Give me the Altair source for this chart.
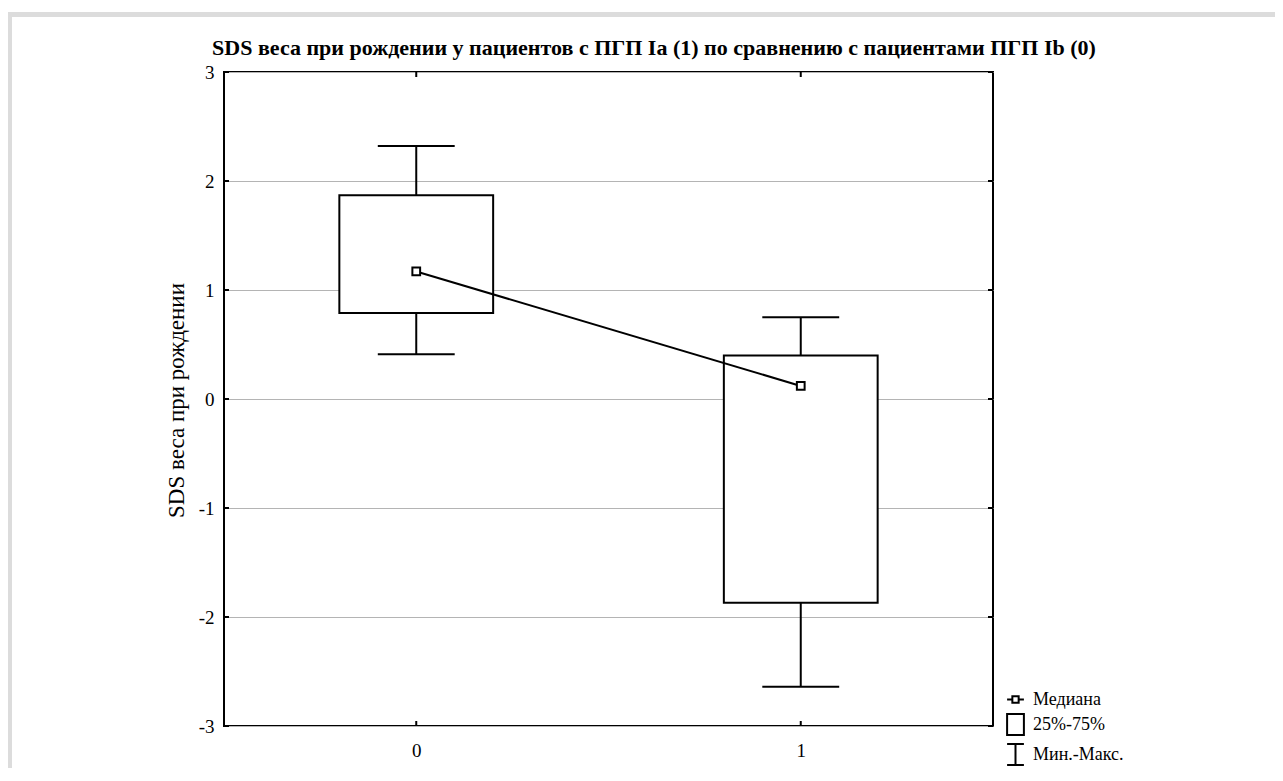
import altair as alt
import pandas as pd

# ---- data ----
groups = [0, 1]
medians = [1.17, 0.12]
q1 = [0.79, -1.87]
q3 = [1.87, 0.40]
mins = [0.41, -2.64]
maxs = [2.32, 0.75]

y_ticks = [-3, -2, -1, 0, 1, 2, 3]
x_ticks = [0, 1]
legend_items = ["Медиана", "25%-75%", "Мин.-Макс."]

title_text = "SDS веса при рождении у пациентов с ПГП Ia (1) по сравнению с пациентами ПГП Ib (0)"
y_title = "SDS веса при рождении"

FONT = "Liberation Serif, Times New Roman, serif"
W, H = 769, 654
BOX_HALF = 0.2
CAP_HALF = 0.1

df = pd.DataFrame({"g": groups, "med": medians, "q1": q1, "q3": q3, "mn": mins, "mx": maxs})
df["bl"] = df["g"] - BOX_HALF
df["br"] = df["g"] + BOX_HALF
df["cl"] = df["g"] - CAP_HALF
df["cr"] = df["g"] + CAP_HALF

xs = alt.Scale(domain=[-0.5, 1.5], nice=False, zero=False)
ys = alt.Scale(domain=[-3, 3], nice=False, zero=False)

base = alt.Chart(df)

x_axis = alt.Axis(values=x_ticks, grid=False, tickSize=0, domain=False,
                  labelFont=FONT, labelFontSize=19, labelColor="black",
                  labelPadding=15, title=None, labelExpr="toString(datum.value)")
y_axis = alt.Axis(values=y_ticks, grid=True, gridColor="#b4b4b4", gridWidth=1,
                  tickSize=0, domain=False, labelFont=FONT, labelFontSize=19,
                  labelColor="black", labelPadding=10, title=y_title,
                  titleFont=FONT, titleFontSize=23, titleFontWeight="normal",
                  titleColor="black", titleX=-48, titleY=H / 2 + 1, titleAngle=270,
                  titleBaseline="middle", titleAlign="center",
                  labelExpr="toString(datum.value)")

grid_holder = base.mark_point(opacity=0).encode(
    x=alt.X("g:Q", scale=xs, axis=x_axis),
    y=alt.Y("med:Q", scale=ys, axis=y_axis),
)

whisk_up = base.mark_rule(color="black", strokeWidth=2).encode(
    x="g:Q", y="q3:Q", y2="mx:Q")
whisk_dn = base.mark_rule(color="black", strokeWidth=2).encode(
    x="g:Q", y="mn:Q", y2="q1:Q")
cap_up = base.mark_rule(color="black", strokeWidth=2).encode(
    x="cl:Q", x2="cr:Q", y="mx:Q")
cap_dn = base.mark_rule(color="black", strokeWidth=2).encode(
    x="cl:Q", x2="cr:Q", y="mn:Q")
boxes = base.mark_rect(fill="white", stroke="black", strokeWidth=2).encode(
    x="bl:Q", x2="br:Q", y="q1:Q", y2="q3:Q")
med_line = base.mark_line(color="black", strokeWidth=2).encode(
    x="g:Q", y="med:Q")
med_pts = base.mark_square(size=60, filled=True, fill="white", stroke="black",
                           strokeWidth=2, opacity=1).encode(x="g:Q", y="med:Q")

# inward ticks
yt = alt.Chart(pd.DataFrame({"v": y_ticks}))
xt = alt.Chart(pd.DataFrame({"v": x_ticks}))
tick_l = yt.mark_rule(color="black", strokeWidth=2).encode(
    y="v:Q", x=alt.value(0), x2=alt.value(5))
tick_r = yt.mark_rule(color="black", strokeWidth=2).encode(
    y="v:Q", x=alt.value(W - 5), x2=alt.value(W))
tick_b = xt.mark_rule(color="black", strokeWidth=2).encode(
    x="v:Q", y=alt.value(H - 5), y2=alt.value(H))
tick_t = xt.mark_rule(color="black", strokeWidth=2).encode(
    x="v:Q", y=alt.value(0), y2=alt.value(5))

# legend
m_path = "M-0.8,0L-0.3,0M0.3,0L0.8,0M-0.3,-0.3L0.3,-0.3L0.3,0.3L-0.3,0.3Z"
b_path = "M-0.8,-1L0.8,-1L0.8,1L-0.8,1Z"
i_path = "M-0.8,-1L0.8,-1M0,-1L0,1M-0.8,1L0.8,1"
leg = alt.Chart(pd.DataFrame({"item": legend_items})).mark_point(opacity=0).encode(
    shape=alt.Shape("item:N",
                    scale=alt.Scale(domain=legend_items, range=[m_path, b_path, i_path]),
                    legend=alt.Legend(title=None, orient="none", legendX=780, legendY=616,
                                      labelFont=FONT, labelFontSize=18, labelColor="black",
                                      symbolSize=441, symbolOpacity=1,
                                      symbolFillColor="white", symbolStrokeColor="black",
                                      symbolStrokeWidth=2, rowPadding=1, labelOffset=6,
                                      padding=0))
)

# title as a text layer
title_layer = alt.Chart(pd.DataFrame({"t": [title_text]})).mark_text(
    font=FONT, fontSize=22, fontWeight="bold", color="black",
    align="center", baseline="middle"
).encode(text="t:N", x=alt.value(430), y=alt.value(-24))

# decorative grey frame (top and left)
frame_top = alt.Chart(pd.DataFrame({"a": [0]})).mark_rule(color="#dcdcdc", strokeWidth=5).encode(
    x=alt.value(-217), x2=alt.value(1060), y=alt.value(-57.5))
frame_left = alt.Chart(pd.DataFrame({"a": [0]})).mark_rule(color="#dcdcdc", strokeWidth=5).encode(
    x=alt.value(-214.5), y=alt.value(-60), y2=alt.value(720))

chart = alt.layer(
    frame_top, frame_left, grid_holder, whisk_up, whisk_dn, cap_up, cap_dn, boxes,
    med_line, med_pts, tick_l, tick_r, tick_b, tick_t, leg, title_layer
).properties(
    width=W, height=H,
    background="white",
    autosize=alt.AutoSizeParams(type="none"),
    padding={"left": 216, "top": 64, "right": 282, "bottom": 42},
).configure_view(
    stroke="black", strokeWidth=2
)

chart.save("out.html", embed_options={"renderer": "svg", "actions": False})
